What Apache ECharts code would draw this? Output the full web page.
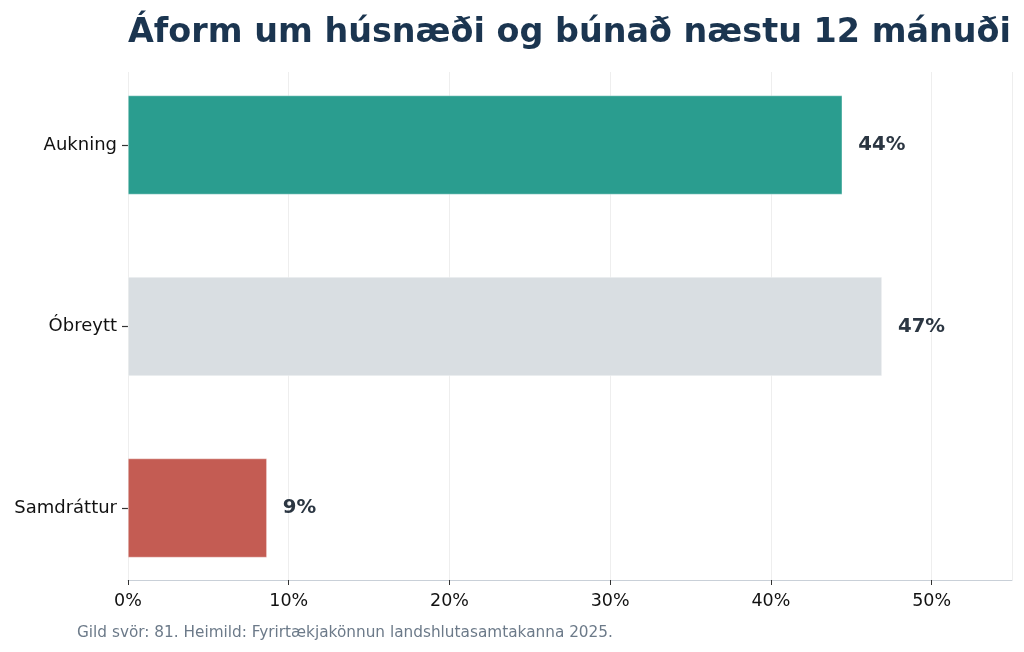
<!DOCTYPE html>
<html>
<head>
<meta charset="utf-8">
<script src="https://cdn.jsdelivr.net/npm/echarts@6/dist/echarts.min.js"></script>
<style>
html,body{margin:0;padding:0;background:#fff;}
#main{width:1024px;height:652px;}
</style>
</head>
<body>
<div id="main"></div>
<script>
const categories = ['Aukning', 'Óbreytt', 'Samdráttur'];
const values = [44.44, 46.91, 8.64];
const barColors = ['#2a9d8f', '#d9dee2', '#c45c53'];
const xTicks = [0, 10, 20, 30, 40, 50];

const chart = echarts.init(document.getElementById('main'), null, {renderer: 'canvas'});
const FONT = 'DejaVu Sans';
const option = {
  animation: false,
  backgroundColor: '#ffffff',
  title: [{
    text: 'Áform um húsnæði og búnað næstu 12 mánuði',
    left: 123, top: 12,
    textStyle: {fontFamily: FONT, fontWeight: 'bold', fontSize: 33.4, color: '#1b3550'}
  }, {
    text: 'Gild svör: 81. Heimild: Fyrirtækjakönnun landshlutasamtakanna 2025.',
    left: 72, top: 621,
    textStyle: {fontFamily: FONT, fontWeight: 'normal', fontSize: 15.3, color: '#6c7a89'}
  }],
  grid: [
    {left: 128, right: 12, top: 72, bottom: 72},
    {left: 128, right: 12, top: 54.25, height: 544.5}
  ],
  xAxis: [{
    gridIndex: 0, type: 'value', min: 0, max: 55, interval: 10,
    axisLine: {show: true, lineStyle: {color: '#c9d0d8', width: 1}},
    axisTick: {show: true, length: 5, lineStyle: {color: '#333', width: 1}},
    axisLabel: {
      margin: 12, fontFamily: FONT, fontSize: 17.5, color: '#111',
      formatter: v => xTicks.includes(v) ? v + '%' : '',
      showMaxLabel: false
    },
    splitLine: {show: true, lineStyle: {color: '#eeeeee', width: 1}}
  }, {
    gridIndex: 1, type: 'value', min: 0, max: 55, show: false
  }],
  yAxis: [{
    gridIndex: 0, type: 'value', show: false
  }, {
    gridIndex: 1, type: 'category', data: categories, inverse: true,
    axisLine: {show: false},
    axisTick: {show: true, alignWithLabel: true, length: 6, lineStyle: {color: '#333', width: 1.2}},
    axisLabel: {margin: 11, fontFamily: FONT, fontSize: 18, color: '#111', padding: [3, 0, 0, 0]},
    splitLine: {show: false}
  }],
  series: [{
    type: 'bar', xAxisIndex: 1, yAxisIndex: 1,
    data: values.map((v, i) => ({value: v, itemStyle: {color: barColors[i]}})),
    barWidth: 99,
    itemStyle: {borderColor: 'rgba(255,255,255,0.6)', borderWidth: 0.6},
    label: {
      show: true, position: 'right', distance: 16,
      formatter: p => Math.round(p.value) + '%',
      fontFamily: FONT, fontWeight: 'bold', fontSize: 19.7, color: '#2b3642'
    }
  }]
};
chart.setOption(option);
</script>
</body>
</html>
